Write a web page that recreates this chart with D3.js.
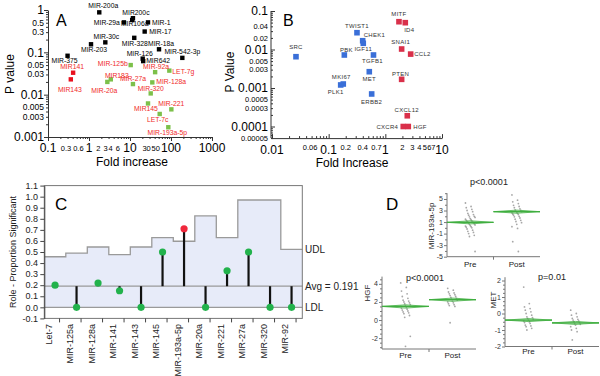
<!DOCTYPE html>
<html><head><meta charset="utf-8">
<script src="https://d3js.org/d3.v7.min.js"></script>
<style>body{margin:0;background:#fff;}</style>
</head><body>
<script>
// ================= DATA =================
// Panel A: miRNA fold increase vs P value
const aNames = ["MIR-200a","MIR200c","MIR-29a","MIR106a","MIR-1","MIR-17","MIR-30c","MIR-328","MIR-203","MIR-18a","MIR-126","MIR642","MIR-542-3p","MIR-375","MIR141","MIR143","MIR-125b","MIR183","MIR-20a","MIR-27a","MIR-92a","LET-7g","MIR-128a","MIR-320","MIR145","MIR-221","LET-7c","MIR-193a-5p"];
const aFold = [1.78,11.8,7.1,11.3,27.5,22.8,2.5,12.7,1.12,51,20.4,21,189,0.30,0.41,0.36,10.4,3.4,2.8,11.8,41,91,35,32,27.5,102,53,86];
const aP = [0.88,0.64,0.51,0.58,0.51,0.31,0.172,0.22,0.155,0.118,0.071,0.062,0.074,0.083,0.033,0.023,0.050,0.023,0.020,0.0178,0.034,0.037,0.0195,0.0107,0.0062,0.0045,0.0035,0.0017];
const aGroup = ["ns","ns","ns","ns","ns","ns","ns","ns","ns","ns","ns","ns","ns","ns","down","down","sig","sig","sig","sig","sig","sig","sig","sig","sig","sig","sig","sig"];
const aXLabels = ["0.1","0.3","0.6","1","2","3","4","6","10","30","50","100","1000"];
const aYLabels = ["1","0.5","0.3","0.1","0.05","0.03","0.01","0.005","0.003","0.001"];

// Panel B: genes fold increase vs P value
const bNames = ["SRC","TWIST1","CHEK1","IGF11","PBK","TGFB1","MET","MKI67","PLK1","ERBB2","MITF","ID4","SNAI1","CCL2","PTEN","CXCL12","CXCR4","HGF"];
const bFold = [0.0265,0.316,0.398,0.408,0.189,0.618,0.521,0.181,0.163,0.574,1.74,2.25,1.94,2.80,1.94,2.44,2.07,2.54];
const bP = [0.0065,0.0273,0.0169,0.0145,0.0072,0.0072,0.00265,0.00127,0.0012,0.0007,0.0527,0.0497,0.0103,0.0076,0.00168,0.00019,0.0001,0.0001];
const bDir = ["down","down","down","down","down","down","down","down","down","down","up","up","up","up","up","up","up","up"];
const bXLabels = ["0.01","0.06","0.1","0.2","0.4","0.7","1","2","3","4","5","6","7","10"];
const bYLabels = ["0.1","0.04","0.02","0.01","0.005","0.003","0.001","0.0005","0.0003","0.0001","0.00005"];

// Panel C: analysis of means
const cCats = ["Let-7","MIR-125a","MIR-128a","MIR-141","MIR-143","MIR-145","MIR-193a-5p","MIR-20a","MIR-221","MIR-27a","MIR-320","MIR-92"];
const cRate = [0.20,0.00,0.22,0.15,0.00,0.50,0.71,0.00,0.33,0.50,0.00,0.00];
const cUDL = [0.457,0.49,0.545,0.476,0.545,0.63,0.597,0.826,0.63,0.97,0.97,0.524];
const cAvg = 0.191;
const cLDL = 0.0;
const cYLabels = ["-0.1","0.0","0.1","0.2","0.3","0.4","0.5","0.6","0.7","0.8","0.9","1.0","1.1"];

// Panel D: Pre / Post
const dCats = ["Pre","Post"];
const mirPre = [4.3,3.7,3.5,3.2,3.0,2.8,2.5,2.3,2.2,2.0,1.9,1.8,1.6,1.5,1.4,1.3,1.2,1.1,1.0,1.0,0.9,0.8,0.7,0.6,0.5,0.4,0.3,0.2,0.1,0.0,-0.2,-0.4,-0.6,-0.8,-1.0,-1.3,-1.5,-4.1];
const mirPost = [5.7,4.8,4.5,4.2,3.9,3.7,3.5,3.3,3.1,3.0,2.9,2.8,2.7,2.6,2.5,2.4,2.3,2.2,2.0,1.9,1.7,1.5,1.3,1.1,0.9,0.6,0.2,-0.1,-2.4,-4.1];
const mirMeans = [0.95,2.8];
const mirCI = [0.27,0.27];
const hgfPre = [4.1,3.6,3.2,2.9,2.6,2.4,2.2,2.1,2.0,1.9,1.8,1.7,1.6,1.5,1.4,1.3,1.2,1.1,1.0,0.9,0.8,0.7,0.5,0.3,-1.8,-2.9];
const hgfPost = [3.5,3.3,3.1,3.0,2.9,2.8,2.7,2.6,2.5,2.4,2.3,2.2,2.1,2.0,1.9,1.8,1.7,1.6,1.5,-0.3];
const hgfMeans = [1.5,2.25];
const hgfCI = [0.18,0.18];
const metPre = [1.6,0.6,0.4,0.3,0.2,0.1,0.0,-0.1,-0.2,-0.25,-0.3,-0.35,-0.4,-0.45,-0.5,-0.55,-0.6,-0.7,-0.75,-0.8,-0.9,-1.0];
const metPost = [0.2,0.0,-0.1,-0.2,-0.3,-0.35,-0.4,-0.45,-0.5,-0.55,-0.6,-0.65,-0.7,-0.8,-0.9,-1.0,-1.1,-1.6];
const metMeans = [-0.4,-0.57];
const metCI = [0.09,0.09];

// ================= DRAWING =================
const FONT = "'Liberation Sans', Arial, Helvetica, sans-serif";
const svg = d3.select("body").append("svg").attr("width",600).attr("height",376)
  .style("font-family",FONT).style("display","block");

function isPow10(v){ const l=Math.log10(v); return Math.abs(l-Math.round(l))<1e-6; }
function txt(g,x,y,s,size,o={}){
  const t=g.append("text").attr("x",x).attr("y",y).attr("font-size",size)
    .attr("text-anchor",o.anchor||"start").attr("fill",o.fill||"#000").text(s);
  if(o.rotate){ t.attr("transform",`rotate(-90,${x},${y})`).attr("dy","0.35em"); }
  return t;
}

// ---------- Panel A ----------
(function(){
  const g = svg.append("g");
  const xA = d3.scaleLog().domain([0.1,1000]).range([48,212]);
  const yA = d3.scaleLog().domain([0.001,1]).range([137,10]);
  const ax = "#333";
  g.append("g").attr("transform","translate(48,0)")
    .call(d3.axisLeft(yA).tickValues(yA.ticks()).tickFormat("").tickSizeOuter(0))
    .call(s=>{s.select(".domain").attr("stroke",ax);
      s.selectAll(".tick line").attr("stroke",ax).attr("x2",d=>isPow10(d)?-4:-2);});
  g.append("g").attr("transform","translate(0,137)")
    .call(d3.axisBottom(xA).tickValues(xA.ticks()).tickFormat("").tickSizeOuter(0))
    .call(s=>{s.select(".domain").attr("stroke",ax);
      s.selectAll(".tick line").attr("stroke",ax).attr("y2",d=>isPow10(d)?4:2);});
  g.selectAll(".aylab").data(aYLabels).join("text")
    .attr("x",44).attr("y",d=>yA(+d)+(isPow10(+d)?4.3:3))
    .attr("text-anchor","end").attr("font-size",d=>isPow10(+d)?12:8.5).text(d=>d);
  g.selectAll(".axlab").data(aXLabels).join("text")
    .attr("x",d=>xA(+d)+(isPow10(+d)?0:(+d>1?-3:-1.5))).attr("y",d=>isPow10(+d)?152:150.5)
    .attr("text-anchor","middle").attr("font-size",d=>isPow10(+d)?12:7.5).text(d=>d);
  txt(g,132,166,"Fold increase",12,{anchor:"middle"});
  txt(g,10,74,"P value",12,{anchor:"middle",rotate:true});
  txt(g,56,26,"A",16);
  const col = {ns:"#000",down:"#e8101e",sig:"#7cc04a"};
  const labCol = {ns:"#000",down:"#f02a2a",sig:"#f02a2a"};
  const lab = [[4,-4,"middle"],[3,-3,"middle"],[-4,2.5,"end"],[2.5,6,"middle"],[4,2.5,"start"],[4.5,2.5,"start"],
    [1,-3,"middle"],[0.5,8,"middle"],[3,8,"middle"],[2,-3,"middle"],[-3,-3,"middle"],[3,2,"start"],[0,-3.5,"middle"],[-3,7,"middle"],
    [-1,-3.5,"middle"],[-1,12.5,"middle"],
    [-3,1,"end"],[6,-1.5,"middle"],[-3,11,"middle"],[0,-3.5,"middle"],[1,-3,"middle"],[3,3,"start"],[4,2,"start"],
    [0,-2.5,"middle"],[-2,8,"middle"],[0,-3.5,"middle"],[-2,8,"middle"],[-1,8,"middle"]];
  const s=4.4;
  g.selectAll(".apt").data(aNames).join("rect")
    .attr("x",(d,i)=>xA(aFold[i])-s/2).attr("y",(d,i)=>yA(aP[i])-s/2)
    .attr("width",s).attr("height",s).attr("fill",(d,i)=>col[aGroup[i]]);
  g.selectAll(".alb").data(aNames).join("text")
    .attr("x",(d,i)=>xA(aFold[i])+lab[i][0]).attr("y",(d,i)=>yA(aP[i])+lab[i][1])
    .attr("text-anchor",(d,i)=>lab[i][2]).attr("font-size",6.8)
    .attr("fill",(d,i)=>labCol[aGroup[i]]).text(d=>d);
})();

// ---------- Panel B ----------
(function(){
  const g = svg.append("g");
  const xB = d3.scaleLog().domain([0.01,10]).range([272,442]);
  const yB = d3.scaleLog().domain([0.00005,0.1]).range([138.1,11]);
  const ax="#333";
  const nudge = {"0.06":-6};
  g.append("line").attr("x1",271).attr("x2",271).attr("y1",11).attr("y2",138.1).attr("stroke",ax);
  g.append("g").attr("transform","translate(271,0)")
    .call(d3.axisRight(yB).tickValues(yB.ticks()).tickFormat("").tickSizeOuter(0))
    .call(s=>{s.select(".domain").remove();
      s.selectAll(".tick line").attr("stroke",ax).attr("x2",d=>isPow10(d)?4:2);});
  g.append("g").attr("transform","translate(0,138.1)")
    .call(d3.axisTop(xB).tickValues(xB.ticks()).tickFormat("").tickSizeOuter(0))
    .call(s=>{s.select(".domain").attr("stroke",ax);
      s.selectAll(".tick line").attr("stroke",ax).attr("y2",d=>isPow10(d)?-4:-2);});
  g.append("line").attr("x1",271).attr("x2",272).attr("y1",138.1).attr("y2",138.1).attr("stroke",ax);
  g.selectAll(".bylab").data(bYLabels).join("text")
    .attr("x",268).attr("y",d=>yB(+d)+(isPow10(+d)?4.3:2.6))
    .attr("text-anchor","end").attr("font-size",d=>isPow10(+d)?12:7.5).text(d=>d);
  g.selectAll(".bxlab").data(bXLabels).join("text")
    .attr("x",d=>xB(+d)+(nudge[d]||0)).attr("y",d=>isPow10(+d)?153.5:150)
    .attr("text-anchor","middle").attr("font-size",d=>isPow10(+d)?12:7.5).text(d=>d);
  txt(g,352,166.5,"Fold Increase",12,{anchor:"middle"});
  txt(g,230,72,"P Value",12,{anchor:"middle",rotate:true});
  txt(g,283,26,"B",16);
  const col={down:"#3a6fd8",up:"#d9304a"};
  const lab=[[0,-8,"middle"],[0,-5,"middle"],[1,-3.5,"start"],[0,8,"middle"],[2,-3,"middle"],[-1,8,"middle"],
    [0,9.5,"middle"],[-2,-5,"middle"],[-5,9,"middle"],[0,9.7,"middle"],[0,-5.5,"middle"],[4,9.3,"middle"],
    [-1,-4.7,"middle"],[3.5,2,"start"],[-1,-3.5,"middle"],[-0.5,-4,"middle"],[-5,2,"end"],[5,2,"start"]];
  const s=5.6;
  g.selectAll(".bpt").data(bNames).join("rect")
    .attr("x",(d,i)=>xB(bFold[i])-s/2).attr("y",(d,i)=>yB(bP[i])-s/2)
    .attr("width",s).attr("height",s).attr("fill",(d,i)=>col[bDir[i]]);
  g.selectAll(".blb").data(bNames).join("text")
    .attr("x",(d,i)=>xB(bFold[i])+lab[i][0]).attr("y",(d,i)=>yB(bP[i])+lab[i][1])
    .attr("text-anchor",(d,i)=>lab[i][2]).attr("font-size",6).attr("fill","#333")
    .attr("letter-spacing",0.3).text(d=>d);
})();

// ---------- Panel C ----------
(function(){
  const g = svg.append("g");
  const xC = d3.scaleBand().domain(cCats).range([44.3,302.3]);
  const yC = d3.scaleLinear().domain([-0.1,1.1]).range([318.4,185.6]);
  const bw = xC.bandwidth();
  const right = xC.range()[1], left = xC.range()[0];
  const pts = cCats.map((c,i)=>[xC(c),cUDL[i]]).concat([[right,cUDL[cUDL.length-1]]]);
  g.append("path").datum(pts)
    .attr("d",d3.area().x(d=>d[0]).y0(yC(cLDL)).y1(d=>yC(d[1])).curve(d3.curveStepAfter))
    .attr("fill","#e7ebf9");
  g.append("path").datum(pts)
    .attr("d",d3.line().x(d=>d[0]).y(d=>yC(d[1])).curve(d3.curveStepAfter))
    .attr("fill","none").attr("stroke","#9a9a9a").attr("stroke-width",1.3);
  [cAvg,cLDL].forEach(v=>g.append("line").attr("x1",left).attr("x2",right)
    .attr("y1",yC(v)).attr("y2",yC(v)).attr("stroke","#9a9a9a").attr("stroke-width",1.2));
  g.append("rect").attr("x",left).attr("y",yC(1.1)).attr("width",right-left)
    .attr("height",yC(-0.1)-yC(1.1)).attr("fill","none").attr("stroke","#777");
  g.append("g").attr("transform",`translate(${left},0)`)
    .call(d3.axisLeft(yC).tickValues(cYLabels.map(Number)).tickFormat("").tickSize(4).tickSizeOuter(0))
    .call(s=>{s.select(".domain").attr("stroke","#444");s.selectAll(".tick line").attr("stroke","#444");});
  g.selectAll(".cyl").data(cYLabels).join("text")
    .attr("x",38).attr("y",d=>yC(+d)+3.2).attr("text-anchor","end").attr("font-size",9).attr("fill","#222").text(d=>d);
  g.selectAll(".stem").data(cCats).join("line")
    .attr("x1",d=>xC(d)+bw/2).attr("x2",d=>xC(d)+bw/2)
    .attr("y1",yC(cAvg)).attr("y2",(d,i)=>yC(cRate[i]))
    .attr("stroke","#111").attr("stroke-width",2.2);
  g.selectAll(".cdot").data(cCats).join("circle")
    .attr("cx",d=>xC(d)+bw/2).attr("cy",(d,i)=>yC(cRate[i])).attr("r",3.6)
    .attr("fill",(d,i)=>cRate[i]>cUDL[i]?"#f0283c":"#22b24c");
  g.selectAll(".ctk").data(cCats).join("line")
    .attr("x1",d=>xC(d)+bw/2+4.5).attr("x2",d=>xC(d)+bw/2+4.5)
    .attr("y1",yC(-0.1)).attr("y2",yC(-0.1)+4).attr("stroke","#444");
  g.selectAll(".cxl").data(cCats).join("text")
    .attr("transform",d=>`translate(${xC(d)+bw/2-6.5},324) rotate(-90)`)
    .attr("dy","0.35em").attr("text-anchor","end").attr("font-size",9).attr("fill","#222").text(d=>d);
  txt(g,305,yC(cUDL[cUDL.length-1])+3.5,"UDL",10,{fill:"#222"});
  txt(g,305,yC(cAvg)+3.5,"Avg = 0.191",10,{fill:"#222"});
  txt(g,305,yC(cLDL)+3.5,"LDL",10,{fill:"#222"});
  txt(g,13,252,"Role - Proportion Significant",9,{anchor:"middle",rotate:true,fill:"#222"});
  txt(g,55,210,"C",17);
})();

// ---------- Panel D ----------
function drawD(c){
  const g = svg.append("g");
  const x = d3.scaleBand().domain(dCats).range(c.xr);
  const y = d3.scaleLinear().domain(c.dom).range(c.yr);
  const bw = x.bandwidth();
  const ax="#777";
  const ticks = d3.range(c.tk[0], c.tk[1]+1e-9, c.tk[2]).map(v=>+v.toFixed(2));
  g.append("line").attr("x1",c.xr[0]).attr("x2",c.xr[0]).attr("y1",c.yr[1]).attr("y2",c.yr[0]).attr("stroke",ax);
  g.append("g").attr("transform",`translate(${c.xr[0]},0)`)
    .call(d3.axisLeft(y).tickValues(ticks).tickFormat("").tickSizeOuter(0))
    .call(s=>{s.select(".domain").remove();
      s.selectAll(".tick line").attr("stroke",ax).attr("x2",d=>c.labels.includes(d)?-3:-2);});
  g.selectAll(".dyl").data(c.labels).join("text")
    .attr("x",c.xr[0]-4).attr("y",d=>y(d)+2.5).attr("text-anchor","end")
    .attr("font-size",7).attr("fill","#333").text(d=>d);
  g.append("line").attr("x1",c.xr[0]).attr("x2",c.xr[1]).attr("y1",c.yr[0]).attr("y2",c.yr[0]).attr("stroke",ax);
  g.append("line").attr("x1",x("Post")).attr("x2",x("Post")).attr("y1",c.yr[0]).attr("y2",c.yr[0]+3).attr("stroke",ax);
  g.selectAll(".dxl").data(dCats).join("text")
    .attr("x",d=>x(d)+bw/2).attr("y",c.catY).attr("text-anchor","middle")
    .attr("font-size",8).attr("fill","#222").text(d=>d);
  const jit = i => ((i*7)%13-6)*0.8;
  [c.pre,c.post].forEach((arr,k)=>{
    const cx = x(dCats[k])+bw/2;
    g.selectAll(".dd"+k).data(arr).join("circle")
      .attr("cx",(d,i)=>cx+jit(i)).attr("cy",d=>y(d)).attr("r",0.9)
      .attr("fill","#8a8a8a").attr("opacity",0.75);
    const m = c.means[k], ci = c.ci[k];
    const x0=x(dCats[k]), x1=x0+bw;
    g.append("path")
      .attr("d",`M${x0},${y(m)}L${cx},${y(m+ci)}L${x1},${y(m)}L${cx},${y(m-ci)}Z`)
      .attr("fill","rgba(90,190,90,0.35)").attr("stroke","#46b046").attr("stroke-width",0.8);
    g.append("line").attr("x1",x0).attr("x2",x1).attr("y1",y(m)).attr("y2",y(m))
      .attr("stroke","#3fae3f").attr("stroke-width",1.3);
  });
  txt(g,c.title[0],c.title[1],c.title[2],9,{anchor:"middle",fill:"#222"});
  txt(g,c.yl[0],c.yl[1],c.yl[2],8,{anchor:"middle",rotate:true,fill:"#222"});
}
drawD({xr:[447,540],yr:[256.7,193.2],dom:[-5,6],tk:[-5,6,1],labels:[-5,-3,-1,1,3,5],
  pre:mirPre,post:mirPost,means:mirMeans,ci:mirCI,title:[489,185,"p<0.0001"],yl:[431,226,"MIR-193a-5p"],catY:267});
drawD({xr:[382,476],yr:[349,276.6],dom:[-3.2,4.8],tk:[-3,4.5,0.5],labels:[-2,0,2,4],
  pre:hgfPre,post:hgfPost,means:hgfMeans,ci:hgfCI,title:[425,281,"p<0.0001"],yl:[367,293,"HGF"],catY:358});
drawD({xr:[505,599],yr:[346.5,277.2],dom:[-2,2.2],tk:[-2,2,0.25],labels:[-2,-1,0,1,2],
  pre:metPre,post:metPost,means:metMeans,ci:metCI,title:[552,280,"p=0.01"],yl:[493,300,"MET"],catY:354});
txt(svg,386,210,"D",17);
</script>
</body></html>
